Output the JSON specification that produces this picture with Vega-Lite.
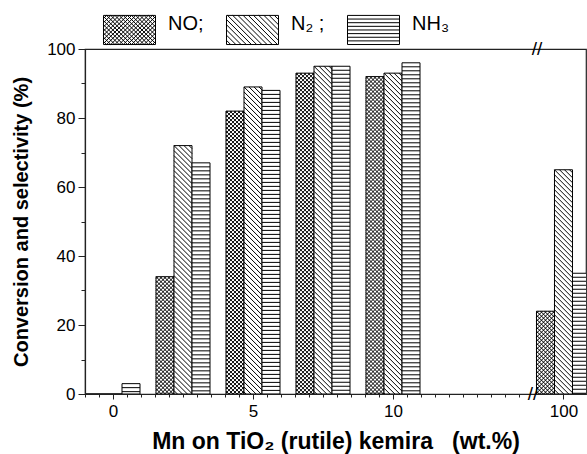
{
  "$schema": "https://vega.github.io/schema/vega-lite/v6.json",
  "width": 501,
  "height": 345,
  "autosize": {"type": "none"},
  "padding": {"left": 85, "top": 49, "right": 1, "bottom": 60},
  "data": {"values": [
    {"loading": 0, "series": "NO", "value": 0},
    {"loading": 0, "series": "N₂", "value": 0},
    {"loading": 0, "series": "NH₃", "value": 3},
    {"loading": 2.5, "series": "NO", "value": 34},
    {"loading": 2.5, "series": "N₂", "value": 72},
    {"loading": 2.5, "series": "NH₃", "value": 67},
    {"loading": 5, "series": "NO", "value": 82},
    {"loading": 5, "series": "N₂", "value": 89},
    {"loading": 5, "series": "NH₃", "value": 88},
    {"loading": 7.5, "series": "NO", "value": 93},
    {"loading": 7.5, "series": "N₂", "value": 95},
    {"loading": 7.5, "series": "NH₃", "value": 95},
    {"loading": 10, "series": "NO", "value": 92},
    {"loading": 10, "series": "N₂", "value": 93},
    {"loading": 10, "series": "NH₃", "value": 96},
    {"loading": 100, "series": "NO", "value": 24},
    {"loading": 100, "series": "N₂", "value": 65},
    {"loading": 100, "series": "NH₃", "value": 35}
  ]},
  "layer": [
    {
      "encoding": {
        "x": {
          "field": "loading", "type": "quantitative",
          "scale": {"domain": [-1, 15, 99, 100.85], "range": [0, 448, 452, 501], "nice": false, "zero": false, "padding": 0},
          "axis": {
            "values": [-1, -0.5, 0, 0.5, 1, 1.5, 2, 2.5, 3, 3.5, 4, 4.5, 5, 5.5, 6, 6.5, 7, 7.5, 8, 8.5, 9, 9.5, 10, 10.5, 11, 11.5, 12, 12.5, 13, 13.5, 14, 14.5, 100],
            "labelExpr": "(datum.value == 0 || datum.value == 5 || datum.value == 10 || datum.value == 100) ? datum.label : ''",
            "tickSize": {"condition": {"test": "datum.value == 0 || datum.value == 5 || datum.value == 10 || datum.value == 100", "value": 5}, "value": 3},
            "labelPadding": 4, "labelFontSize": 17, "labelOverlap": false, "labelFlush": false,
            "title": "Mn on TiO₂ (rutile) kemira\u00a0\u00a0 (wt.%)",
            "titleFontSize": 23, "titleFontWeight": "bold", "titleY": 54, "titleBaseline": "alphabetic"
          }
        },
        "y": {
          "field": "value", "type": "quantitative",
          "scale": {"domain": [0, 100], "nice": false, "padding": 0},
          "axis": {
            "values": [0, 10, 20, 30, 40, 50, 60, 70, 80, 90, 100],
            "labelExpr": "datum.value % 20 == 0 ? datum.label : ''",
            "tickSize": {"condition": {"test": "datum.value % 20 == 0", "value": 7}, "value": 4},
            "labelPadding": 3, "labelFontSize": 17, "labelOverlap": false, "labelFlush": false,
            "title": "Conversion and selectivity (%)",
            "titleFontSize": 20, "titleFontWeight": "bold", "titleX": -58, "titleY": 172.5,
            "titleAngle": 270, "titleAlign": "center", "titleBaseline": "alphabetic"
          }
        }
      },
      "layer": [
        {
          "transform": [{"filter": "datum.series == 'NO'"}],
          "mark": {"type": "bar", "width": 18, "xOffset": -18, "fill": "white", "strokeWidth": 1, "clip": true},
          "encoding": {
            "stroke": {
              "field": "series", "type": "nominal",
              "scale": {"domain": ["NO", "N₂", "NH₃"], "range": ["black", "black", "black"]},
              "legend": {
                "orient": "none", "legendX": 18, "legendY": -46,
                "direction": "horizontal", "title": null, "padding": 0,
                "symbolSize": 2704, "symbolStrokeWidth": 1, "symbolFillColor": "white", "symbolStrokeColor": "black",
                "symbolType": {"expr": "datum.value == 'NO' ? 'M-1 -0.56H1V0.56H-1ZM0.88 -0.56L1 -0.44M0.72 -0.56L1 -0.28M0.56 -0.56L1 -0.12M0.4 -0.56L1 0.04M0.24 -0.56L1 0.2M0.08 -0.56L1 0.36M-0.08 -0.56L1 0.52M-0.24 -0.56L0.88 0.56M-0.4 -0.56L0.72 0.56M-0.56 -0.56L0.56 0.56M-0.72 -0.56L0.4 0.56M-0.88 -0.56L0.24 0.56M-1 -0.52L0.08 0.56M-1 -0.36L-0.08 0.56M-1 -0.2L-0.24 0.56M-1 -0.04L-0.4 0.56M-1 0.12L-0.56 0.56M-1 0.28L-0.72 0.56M-1 0.44L-0.88 0.56M-0.88 -0.56L-1 -0.44M-0.72 -0.56L-1 -0.28M-0.56 -0.56L-1 -0.12M-0.4 -0.56L-1 0.04M-0.24 -0.56L-1 0.2M-0.08 -0.56L-1 0.36M0.08 -0.56L-1 0.52M0.24 -0.56L-0.88 0.56M0.4 -0.56L-0.72 0.56M0.56 -0.56L-0.56 0.56M0.72 -0.56L-0.4 0.56M0.88 -0.56L-0.24 0.56M1 -0.52L-0.08 0.56M1 -0.36L0.08 0.56M1 -0.2L0.24 0.56M1 -0.04L0.4 0.56M1 0.12L0.56 0.56M1 0.28L0.72 0.56M1 0.44L0.88 0.56' : (datum.value == 'N₂' ? 'M-1 -0.56H1V0.56H-1ZM0.84 -0.56L1 -0.4M0.64 -0.56L1 -0.2M0.44 -0.56L1 0M0.24 -0.56L1 0.2M0.04 -0.56L1 0.4M-0.16 -0.56L0.96 0.56M-0.36 -0.56L0.76 0.56M-0.56 -0.56L0.56 0.56M-0.76 -0.56L0.36 0.56M-0.96 -0.56L0.16 0.56M-1 -0.4L-0.04 0.56M-1 -0.2L-0.24 0.56M-1 0L-0.44 0.56M-1 0.2L-0.64 0.56M-1 0.4L-0.84 0.56' : 'M-1 -0.56H1V0.56H-1ZM-1 -0.42H1M-1 -0.28H1M-1 -0.14H1M-1 0H1M-1 0.14H1M-1 0.28H1M-1 0.42H1')"},
                "labelFont": "Liberation Sans", "labelFontSize": 20, "labelColor": "black",
                "labelOffset": 12, "columnPadding": 20, "labelBaseline": "alphabetic", "labelLimit": 300,
                "labelExpr": "datum.value == 'NO' ? 'NO;' : (datum.value == 'N₂' ? 'N₂ ;' : 'NH₃')",
                "encode": {"labels": {"dy": {"value": 2}}}
              }
            }
          }
        },
        {
          "transform": [{"filter": "datum.series == 'NO'"}],
          "mark": {"type": "point", "size": 4, "filled": false, "stroke": "black", "strokeWidth": 1, "opacity": 1, "xOffset": -18, "clip": true,
            "shape": "M7 0L9 2M3 0L9 6M-1 0L9 10M-5 0L9 14M-9 0l18 18m-18 -14l18 18m-18 -14l18 18m-18 -14l18 18m-18 -14l18 18m-18 -14l18 18m-18 -14l18 18m-18 -14l18 18m-18 -14l18 18m-18 -14l18 18m-18 -14l18 18m-18 -14l18 18m-18 -14l18 18m-18 -14l18 18m-18 -14l18 18m-18 -14l18 18m-18 -14l18 18m-18 -14l18 18m-18 -14l18 18m-18 -14l18 18m-18 -14l18 18m-18 -14l18 18m-18 -14l18 18m-18 -14l18 18m-18 -14l18 18m-18 -14l18 18m-18 -14l18 18m-18 -14l18 18m-18 -14l18 18m-18 -14l18 18m-18 -14l18 18m-18 -14l18 18m-18 -14l18 18m-18 -14l18 18m-18 -14l18 18m-18 -14l18 18m-18 -14l18 18m-18 -14l18 18m-18 -14l18 18m-18 -14l18 18m-18 -14l18 18m-18 -14l18 18m-18 -14l18 18m-18 -14l18 18m-18 -14l18 18m-18 -14l18 18m-18 -14l18 18m-18 -14l18 18m-18 -14l18 18m-18 -14l18 18m-18 -14l18 18m-18 -14l18 18m-18 -14l18 18m-18 -14l18 18m-18 -14l18 18m-18 -14l18 18m-18 -14l18 18m-18 -14l18 18m-18 -14l18 18m-18 -14l18 18m-18 -14l18 18m-18 -14l18 18m-18 -14l18 18m-18 -14l18 18m-18 -14l18 18m-18 -14l18 18m-18 -14l18 18m-18 -14l18 18m-18 -14l18 18m-18 -14l18 18m-18 -14l18 18m-18 -14l18 18m-18 -14l18 18m-18 -14l18 18m-18 -14l18 18m-18 -14l18 18m-18 -14l18 18m-18 -14l18 18m-18 -14l18 18m-18 -14l18 18m-18 -14l18 18m-18 -14l18 18m-18 -14l18 18m-18 -14l18 18m-18 -14l18 18m-18 -14l18 18m-18 -14l18 18m-18 -14l18 18M-7 0L-9 2M-3 0L-9 6M1 0L-9 10M5 0L-9 14M9 0l-18 18m18 -14l-18 18m18 -14l-18 18m18 -14l-18 18m18 -14l-18 18m18 -14l-18 18m18 -14l-18 18m18 -14l-18 18m18 -14l-18 18m18 -14l-18 18m18 -14l-18 18m18 -14l-18 18m18 -14l-18 18m18 -14l-18 18m18 -14l-18 18m18 -14l-18 18m18 -14l-18 18m18 -14l-18 18m18 -14l-18 18m18 -14l-18 18m18 -14l-18 18m18 -14l-18 18m18 -14l-18 18m18 -14l-18 18m18 -14l-18 18m18 -14l-18 18m18 -14l-18 18m18 -14l-18 18m18 -14l-18 18m18 -14l-18 18m18 -14l-18 18m18 -14l-18 18m18 -14l-18 18m18 -14l-18 18m18 -14l-18 18m18 -14l-18 18m18 -14l-18 18m18 -14l-18 18m18 -14l-18 18m18 -14l-18 18m18 -14l-18 18m18 -14l-18 18m18 -14l-18 18m18 -14l-18 18m18 -14l-18 18m18 -14l-18 18m18 -14l-18 18m18 -14l-18 18m18 -14l-18 18m18 -14l-18 18m18 -14l-18 18m18 -14l-18 18m18 -14l-18 18m18 -14l-18 18m18 -14l-18 18m18 -14l-18 18m18 -14l-18 18m18 -14l-18 18m18 -14l-18 18m18 -14l-18 18m18 -14l-18 18m18 -14l-18 18m18 -14l-18 18m18 -14l-18 18m18 -14l-18 18m18 -14l-18 18m18 -14l-18 18m18 -14l-18 18m18 -14l-18 18m18 -14l-18 18m18 -14l-18 18m18 -14l-18 18m18 -14l-18 18m18 -14l-18 18m18 -14l-18 18m18 -14l-18 18m18 -14l-18 18m18 -14l-18 18m18 -14l-18 18m18 -14l-18 18m18 -14l-18 18m18 -14l-18 18m18 -14l-18 18m18 -14l-18 18m18 -14l-18 18m18 -14l-18 18m18 -14l-18 18m18 -14l-18 18m18 -14l-18 18m18 -14l-18 18"}
        },
        {
          "transform": [{"filter": "datum.series == 'N₂'"}],
          "mark": {"type": "bar", "width": 18, "xOffset": 0, "fill": "white", "stroke": "black", "strokeWidth": 1, "clip": true}
        },
        {
          "transform": [{"filter": "datum.series == 'N₂'"}],
          "mark": {"type": "point", "size": 4, "filled": false, "stroke": "black", "strokeWidth": 1, "opacity": 1, "xOffset": 0, "clip": true,
            "shape": "M6 0L9 3M1 0L9 8M-4 0L9 13M-9 0l18 18m-18 -13l18 18m-18 -13l18 18m-18 -13l18 18m-18 -13l18 18m-18 -13l18 18m-18 -13l18 18m-18 -13l18 18m-18 -13l18 18m-18 -13l18 18m-18 -13l18 18m-18 -13l18 18m-18 -13l18 18m-18 -13l18 18m-18 -13l18 18m-18 -13l18 18m-18 -13l18 18m-18 -13l18 18m-18 -13l18 18m-18 -13l18 18m-18 -13l18 18m-18 -13l18 18m-18 -13l18 18m-18 -13l18 18m-18 -13l18 18m-18 -13l18 18m-18 -13l18 18m-18 -13l18 18m-18 -13l18 18m-18 -13l18 18m-18 -13l18 18m-18 -13l18 18m-18 -13l18 18m-18 -13l18 18m-18 -13l18 18m-18 -13l18 18m-18 -13l18 18m-18 -13l18 18m-18 -13l18 18m-18 -13l18 18m-18 -13l18 18m-18 -13l18 18m-18 -13l18 18m-18 -13l18 18m-18 -13l18 18m-18 -13l18 18m-18 -13l18 18m-18 -13l18 18m-18 -13l18 18m-18 -13l18 18m-18 -13l18 18m-18 -13l18 18m-18 -13l18 18m-18 -13l18 18m-18 -13l18 18m-18 -13l18 18m-18 -13l18 18m-18 -13l18 18m-18 -13l18 18m-18 -13l18 18m-18 -13l18 18m-18 -13l18 18m-18 -13l18 18m-18 -13l18 18m-18 -13l18 18m-18 -13l18 18m-18 -13l18 18m-18 -13l18 18m-18 -13l18 18m-18 -13l18 18m-18 -13l18 18m-18 -13l18 18"}
        },
        {
          "transform": [{"filter": "datum.series == 'NH₃'"}],
          "mark": {"type": "bar", "width": 18, "xOffset": 18, "fill": "white", "stroke": "black", "strokeWidth": 1, "clip": true}
        },
        {
          "transform": [{"filter": "datum.series == 'NH₃'"}],
          "mark": {"type": "point", "size": 4, "filled": false, "stroke": "black", "strokeWidth": 1, "opacity": 1, "xOffset": 18, "clip": true,
            "shape": "M-9 4h18m-18 4h18m-18 4h18m-18 4h18m-18 4h18m-18 4h18m-18 4h18m-18 4h18m-18 4h18m-18 4h18m-18 4h18m-18 4h18m-18 4h18m-18 4h18m-18 4h18m-18 4h18m-18 4h18m-18 4h18m-18 4h18m-18 4h18m-18 4h18m-18 4h18m-18 4h18m-18 4h18m-18 4h18m-18 4h18m-18 4h18m-18 4h18m-18 4h18m-18 4h18m-18 4h18m-18 4h18m-18 4h18m-18 4h18m-18 4h18m-18 4h18m-18 4h18m-18 4h18m-18 4h18m-18 4h18m-18 4h18m-18 4h18m-18 4h18m-18 4h18m-18 4h18m-18 4h18m-18 4h18m-18 4h18m-18 4h18m-18 4h18m-18 4h18m-18 4h18m-18 4h18m-18 4h18m-18 4h18m-18 4h18m-18 4h18m-18 4h18m-18 4h18m-18 4h18m-18 4h18m-18 4h18m-18 4h18m-18 4h18m-18 4h18m-18 4h18m-18 4h18m-18 4h18m-18 4h18m-18 4h18m-18 4h18m-18 4h18m-18 4h18m-18 4h18m-18 4h18m-18 4h18m-18 4h18m-18 4h18m-18 4h18m-18 4h18m-18 4h18m-18 4h18m-18 4h18m-18 4h18m-18 4h18m-18 4h18"}
        }
      ]
    },
    {
      "data": {"values": [{"mark": "break"}]},
      "mark": {"type": "text", "fontSize": 19, "font": "Liberation Sans", "fill": "black", "align": "center", "baseline": "middle", "clip": false},
      "encoding": {
        "text": {"value": "//"},
        "x": {
          "datum": 15, "type": "quantitative",
          "scale": {"domain": [-1, 15, 99, 100.85], "range": [0, 448, 452, 501], "nice": false, "zero": false, "padding": 0},
          "axis": {
            "values": [-1, -0.5, 0, 0.5, 1, 1.5, 2, 2.5, 3, 3.5, 4, 4.5, 5, 5.5, 6, 6.5, 7, 7.5, 8, 8.5, 9, 9.5, 10, 10.5, 11, 11.5, 12, 12.5, 13, 13.5, 14, 14.5, 100],
            "labelExpr": "(datum.value == 0 || datum.value == 5 || datum.value == 10 || datum.value == 100) ? datum.label : ''",
            "tickSize": {"condition": {"test": "datum.value == 0 || datum.value == 5 || datum.value == 10 || datum.value == 100", "value": 5}, "value": 3},
            "labelPadding": 4, "labelFontSize": 17, "labelOverlap": false, "labelFlush": false,
            "title": "Mn on TiO₂ (rutile) kemira\u00a0\u00a0 (wt.%)",
            "titleFontSize": 23, "titleFontWeight": "bold", "titleY": 54, "titleBaseline": "alphabetic"
          }
        },
        "y": {
          "datum": 0, "type": "quantitative",
          "scale": {"domain": [0, 100], "nice": false, "padding": 0},
          "axis": {
            "values": [0, 10, 20, 30, 40, 50, 60, 70, 80, 90, 100],
            "labelExpr": "datum.value % 20 == 0 ? datum.label : ''",
            "tickSize": {"condition": {"test": "datum.value % 20 == 0", "value": 7}, "value": 4},
            "labelPadding": 3, "labelFontSize": 17, "labelOverlap": false, "labelFlush": false,
            "title": "Conversion and selectivity (%)",
            "titleFontSize": 20, "titleFontWeight": "bold", "titleX": -58, "titleY": 172.5,
            "titleAngle": 270, "titleAlign": "center", "titleBaseline": "alphabetic"
          }
        }
      }
    },
    {
      "data": {"values": [{"mark": "break"}]},
      "mark": {"type": "text", "fontSize": 19, "font": "Liberation Sans", "fill": "black", "align": "center", "baseline": "middle", "clip": false},
      "encoding": {
        "text": {"value": "//"},
        "x": {
          "datum": 99, "type": "quantitative",
          "scale": {"domain": [-1, 15, 99, 100.85], "range": [0, 448, 452, 501], "nice": false, "zero": false, "padding": 0},
          "axis": {
            "values": [-1, -0.5, 0, 0.5, 1, 1.5, 2, 2.5, 3, 3.5, 4, 4.5, 5, 5.5, 6, 6.5, 7, 7.5, 8, 8.5, 9, 9.5, 10, 10.5, 11, 11.5, 12, 12.5, 13, 13.5, 14, 14.5, 100],
            "labelExpr": "(datum.value == 0 || datum.value == 5 || datum.value == 10 || datum.value == 100) ? datum.label : ''",
            "tickSize": {"condition": {"test": "datum.value == 0 || datum.value == 5 || datum.value == 10 || datum.value == 100", "value": 5}, "value": 3},
            "labelPadding": 4, "labelFontSize": 17, "labelOverlap": false, "labelFlush": false,
            "title": "Mn on TiO₂ (rutile) kemira\u00a0\u00a0 (wt.%)",
            "titleFontSize": 23, "titleFontWeight": "bold", "titleY": 54, "titleBaseline": "alphabetic"
          }
        },
        "y": {
          "datum": 100, "type": "quantitative",
          "scale": {"domain": [0, 100], "nice": false, "padding": 0},
          "axis": {
            "values": [0, 10, 20, 30, 40, 50, 60, 70, 80, 90, 100],
            "labelExpr": "datum.value % 20 == 0 ? datum.label : ''",
            "tickSize": {"condition": {"test": "datum.value % 20 == 0", "value": 7}, "value": 4},
            "labelPadding": 3, "labelFontSize": 17, "labelOverlap": false, "labelFlush": false,
            "title": "Conversion and selectivity (%)",
            "titleFontSize": 20, "titleFontWeight": "bold", "titleX": -58, "titleY": 172.5,
            "titleAngle": 270, "titleAlign": "center", "titleBaseline": "alphabetic"
          }
        }
      }
    }
  ],
  "config": {
    "view": {"stroke": "#222", "strokeWidth": 1.2},
    "font": "Liberation Sans",
    "axis": {
      "labelFont": "Liberation Sans", "titleFont": "Liberation Sans",
      "labelColor": "black", "titleColor": "black",
      "domainColor": "#222", "tickColor": "#222", "domainWidth": 1.2, "tickWidth": 1,
      "grid": false
    }
  }
}
